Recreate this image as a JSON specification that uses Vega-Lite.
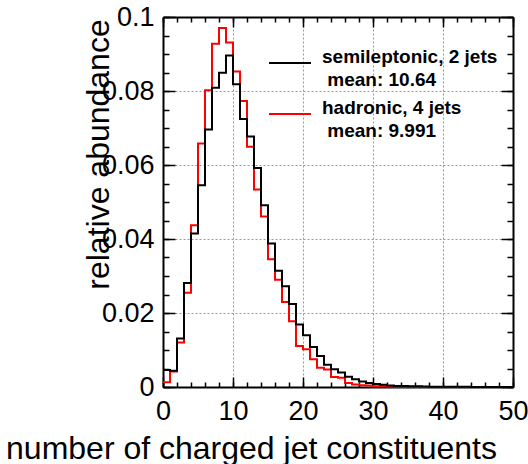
{
  "$schema": "https://vega.github.io/schema/vega-lite/v6.json",
  "width": 350,
  "height": 370,
  "autosize": {"type": "none"},
  "padding": {"left": 163, "top": 17, "right": 15, "bottom": 77},
  "background": "white",
  "data": {
    "values": [
      {"n": 0, "semi": 0.0046, "had": 0.0013},
      {"n": 1, "semi": 0.0044, "had": 0.0042},
      {"n": 2, "semi": 0.0131, "had": 0.0120},
      {"n": 3, "semi": 0.0281, "had": 0.0255},
      {"n": 4, "semi": 0.0415, "had": 0.0437},
      {"n": 5, "semi": 0.0545, "had": 0.0658},
      {"n": 6, "semi": 0.0696, "had": 0.0802},
      {"n": 7, "semi": 0.0809, "had": 0.0928},
      {"n": 8, "semi": 0.0849, "had": 0.0970},
      {"n": 9, "semi": 0.0896, "had": 0.0931},
      {"n": 10, "semi": 0.0818, "had": 0.0853},
      {"n": 11, "semi": 0.0724, "had": 0.0773},
      {"n": 12, "semi": 0.0677, "had": 0.0649},
      {"n": 13, "semi": 0.0592, "had": 0.0534},
      {"n": 14, "semi": 0.0491, "had": 0.0461},
      {"n": 15, "semi": 0.0388, "had": 0.0345},
      {"n": 16, "semi": 0.0314, "had": 0.0290},
      {"n": 17, "semi": 0.0272, "had": 0.0230},
      {"n": 18, "semi": 0.0224, "had": 0.0178},
      {"n": 19, "semi": 0.0169, "had": 0.0111},
      {"n": 20, "semi": 0.0140, "had": 0.0102},
      {"n": 21, "semi": 0.0108, "had": 0.0075},
      {"n": 22, "semi": 0.0084, "had": 0.0052},
      {"n": 23, "semi": 0.0060, "had": 0.0047},
      {"n": 24, "semi": 0.0048, "had": 0.0027},
      {"n": 25, "semi": 0.0039, "had": 0.0025},
      {"n": 26, "semi": 0.0028, "had": 0.0011},
      {"n": 27, "semi": 0.0021, "had": 0.0007},
      {"n": 28, "semi": 0.0015, "had": 0.0005},
      {"n": 29, "semi": 0.0011, "had": 0.0004},
      {"n": 30, "semi": 0.0008, "had": 0.0002},
      {"n": 31, "semi": 0.0006, "had": 0.0002},
      {"n": 32, "semi": 0.0004, "had": 0.0001},
      {"n": 33, "semi": 0.0003, "had": 0.0001},
      {"n": 34, "semi": 0.0003, "had": 0.0001},
      {"n": 35, "semi": 0.0002, "had": 0.00005},
      {"n": 36, "semi": 0.0002, "had": 0.00005},
      {"n": 37, "semi": 0.00015, "had": 0.00003},
      {"n": 38, "semi": 0.0001, "had": 0.00003},
      {"n": 39, "semi": 0.0001, "had": 0.00002},
      {"n": 40, "semi": 0.00008, "had": 0.00002},
      {"n": 41, "semi": 0.00006, "had": 0.00002},
      {"n": 42, "semi": 0.00005, "had": 0.00001},
      {"n": 43, "semi": 0.00004, "had": 0.00001},
      {"n": 44, "semi": 0.00003, "had": 0.00001},
      {"n": 45, "semi": 0.00003, "had": 0.00001},
      {"n": 46, "semi": 0.00002, "had": 0.00001},
      {"n": 47, "semi": 0.00002, "had": 0.00001},
      {"n": 48, "semi": 0.00001, "had": 0.00001},
      {"n": 49, "semi": 0.00001, "had": 0.00001},
      {"n": 50, "semi": 0.00001, "had": 0.00001}
    ]
  },
  "transform": [{"fold": ["had", "semi"], "as": ["s", "v"]}],
  "resolve": {"axis": {"x": "independent", "y": "independent"}},
  "layer": [
    {
      "mark": {"type": "line", "interpolate": "step-after", "strokeWidth": 2, "strokeJoin": "miter"},
      "encoding": {
        "x": {
          "field": "n", "type": "quantitative",
          "scale": {"domain": [0, 50], "nice": false, "zero": false},
          "axis": {
            "orient": "bottom", "values": [0, 10, 20, 30, 40, 50],
            "ticks": false, "grid": true, "labelFontSize": 27, "labelPadding": 11,
            "labelFlush": false, "labelOverlap": false,
            "title": "number of charged jet constituents", "titleFontSize": 32,
            "titleX": 88, "titleY": 71, "titleAlign": "center", "titleBaseline": "alphabetic",
            "titleAnchor": null
          }
        },
        "y": {
          "field": "v", "type": "quantitative",
          "scale": {"domain": [0, 0.1], "nice": false},
          "axis": {
            "orient": "left", "values": [0, 0.02, 0.04, 0.06, 0.08, 0.1], "format": "~g",
            "ticks": false, "grid": true, "labelFontSize": 27, "labelPadding": 9,
            "labelFlush": false, "labelOverlap": false,
            "title": "relative abundance", "titleFontSize": 32, "titleAngle": -90,
            "titleX": -55, "titleY": 137, "titleAlign": "center", "titleBaseline": "alphabetic"
          }
        },
        "color": {
          "field": "s", "type": "nominal",
          "scale": {"domain": ["semi", "had"], "range": ["#000000", "#ff0000"]},
          "legend": {
            "orient": "none", "legendX": 105, "legendY": 24, "title": null,
            "symbolType": "stroke", "symbolSize": 1764, "symbolStrokeWidth": 2,
            "labelFontWeight": "bold", "labelFontSize": 19, "labelBaseline": "alphabetic",
            "labelOffset": 10, "labelLimit": 0, "rowPadding": 2, "padding": 0,
            "labelExpr": "datum.value == 'semi' ? ['semileptonic, 2 jets', '\u200b\u00a0mean: 10.64'] : ['hadronic, 4 jets', '\u200b\u00a0mean: 9.991']"
          }
        }
      }
    },
    {
      "mark": {"type": "line", "strokeOpacity": 0},
      "encoding": {
        "x": {
          "field": "n", "type": "quantitative",
          "axis": {"orient": "bottom", "values": [0, 10, 20, 30, 40, 50],
            "tickSize": -10, "labels": false, "domain": false, "grid": false, "title": null}
        },
        "y": {
          "field": "v", "type": "quantitative",
          "axis": {"orient": "left", "values": [0, 0.02, 0.04, 0.06, 0.08, 0.1],
            "tickSize": -12, "labels": false, "domain": false, "grid": false, "title": null}
        }
      }
    },
    {
      "mark": {"type": "line", "strokeOpacity": 0},
      "encoding": {
        "x": {
          "field": "n", "type": "quantitative",
          "axis": {"orient": "bottom", "values": [0,2,4,6,8,10,12,14,16,18,20,22,24,26,28,30,32,34,36,38,40,42,44,46,48,50],
            "tickSize": -5, "labels": false, "domain": false, "grid": false, "title": null}
        },
        "y": {
          "field": "v", "type": "quantitative",
          "axis": {"orient": "left", "values": [0,0.005,0.01,0.015,0.02,0.025,0.03,0.035,0.04,0.045,0.05,0.055,0.06,0.065,0.07,0.075,0.08,0.085,0.09,0.095,0.1],
            "tickSize": -6, "labels": false, "domain": false, "grid": false, "title": null}
        }
      }
    },
    {
      "mark": {"type": "line", "strokeOpacity": 0},
      "encoding": {
        "x": {
          "field": "n", "type": "quantitative",
          "axis": {"orient": "top", "values": [0, 10, 20, 30, 40, 50],
            "tickSize": -10, "labels": false, "domain": true, "grid": false, "title": null}
        },
        "y": {
          "field": "v", "type": "quantitative",
          "axis": {"orient": "right", "values": [0, 0.02, 0.04, 0.06, 0.08, 0.1],
            "tickSize": -12, "labels": false, "domain": true, "grid": false, "title": null}
        }
      }
    },
    {
      "mark": {"type": "line", "strokeOpacity": 0},
      "encoding": {
        "x": {
          "field": "n", "type": "quantitative",
          "axis": {"orient": "top", "values": [0,2,4,6,8,10,12,14,16,18,20,22,24,26,28,30,32,34,36,38,40,42,44,46,48,50],
            "tickSize": -5, "labels": false, "domain": false, "grid": false, "title": null}
        },
        "y": {
          "field": "v", "type": "quantitative",
          "axis": {"orient": "right", "values": [0,0.005,0.01,0.015,0.02,0.025,0.03,0.035,0.04,0.045,0.05,0.055,0.06,0.065,0.07,0.075,0.08,0.085,0.09,0.095,0.1],
            "tickSize": -6, "labels": false, "domain": false, "grid": false, "title": null}
        }
      }
    }
  ],
  "config": {
    "font": "Liberation Sans",
    "view": {"stroke": null},
    "style": {"guide-label": {"lineHeight": 23}},
    "axis": {
      "domainColor": "#000000", "domainWidth": 2, "tickColor": "#000000", "tickWidth": 1.5,
      "labelColor": "#000000", "titleColor": "#000000", "titleFontWeight": "normal",
      "gridColor": "#999999", "gridDash": [2, 2], "gridWidth": 1
    },
    "legend": {"labelColor": "#000000"}
  }
}
